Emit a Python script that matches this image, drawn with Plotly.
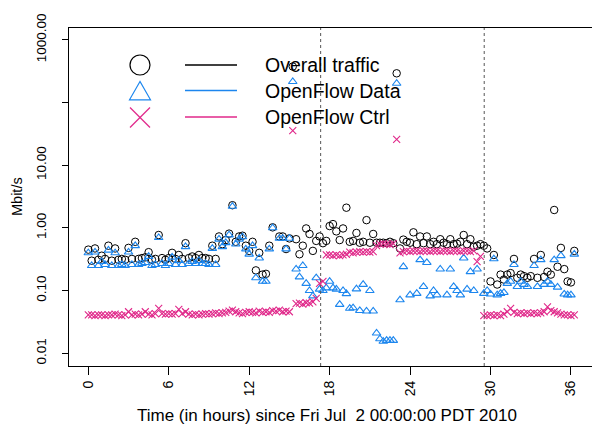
import plotly.graph_objects as go

# ---------------- data ----------------
START_HOUR = 0.0      # first sample, hours since Fri Jul 2 00:00 PDT 2010
STEP_HOURS = 0.25     # sampling interval

overall = [
    0.45, 0.30, 0.47, 0.31, 0.36, 0.32, 0.52, 0.30, 0.47, 0.31,
    0.32, 0.31, 0.48, 0.32, 0.60, 0.32, 0.33, 0.34, 0.41, 0.31,
    0.32, 0.77, 0.33, 0.31, 0.33, 0.40, 0.32, 0.37, 0.32, 0.57,
    0.33, 0.35, 0.33, 0.37, 0.33, 0.33, 0.32, 0.52, 0.32, 0.73,
    0.55, 0.64, 0.81, 2.3, 0.60, 0.73, 0.75, 0.52, 0.43, 0.60,
    0.21, 0.40, 0.18, 0.185, 0.52, 1.02, None, 0.73, 0.73, 0.46,
    0.68, 375, 0.66, 0.38, 0.52, 0.98, 0.80, 0.43, 0.62, 0.73,
    0.57, 0.62, 1.07, 1.15, 0.88, 0.64, 0.98, 2.1, 0.60, 0.62,
    0.83, 0.58, 0.60, 1.33, 0.58, 0.80, 0.58, 0.58, 0.58, 0.57,
    0.60, 0.57, 292, 0.47, 0.65, 0.60, 0.58, 0.85, 0.55, 0.73,
    0.57, 0.73, 0.55, 0.60, 0.55, 0.66, 0.58, 0.55, 0.66, 0.55,
    0.56, 0.60, 0.77, 0.55, 0.66, 0.50, 0.52, 0.55, 0.52, 0.47,
    0.14, 0.37, 0.125, 0.18, 0.15, 0.18, 0.19, 0.32, 0.16, 0.18,
    0.17, 0.16, 0.17, 0.32, 0.16, 0.37, 0.165, 0.20, 0.18, 1.93,
    0.24, 0.48, 0.22, 0.14, 0.135, 0.43,
]

openflow_data = [
    0.40, 0.25, 0.41, 0.25, 0.29, 0.26, 0.44, 0.25, 0.40, 0.25,
    0.26, 0.25, 0.41, 0.26, 0.52, 0.26, 0.27, 0.28, 0.35, 0.25,
    0.26, 0.70, 0.27, 0.25, 0.27, 0.34, 0.26, 0.30, 0.26, 0.50,
    0.27, 0.29, 0.27, 0.30, 0.27, 0.27, 0.26, 0.47, 0.26, 0.66,
    0.50, 0.58, 0.77, 2.2, 0.55, 0.66, 0.72, 0.46, 0.38, 0.52,
    0.16, 0.33, 0.14, 0.14, 0.46, 1.0, None, 0.68, 0.68, 0.46,
    0.68, 215, 0.22, 0.165, 0.25, 0.13, 0.10, 0.082, 0.16, 0.105,
    0.10, 0.11, 0.14, 0.11, 0.105, 0.06, 0.10, 0.089, 0.052, 0.053,
    0.106, 0.048, 0.125, 0.047, 0.10, 0.047, 0.021, 0.017, 0.0155, 0.016,
    0.016, 0.016, 202, 0.071, 0.24, None, 0.085, None, 0.09, 0.31,
    0.116, 0.28, 0.082, 0.10, 0.085, 0.22, None, 0.085, 0.22, 0.116,
    0.10, 0.085, 0.33, 0.105, 0.20, 0.10, 0.22, None, 0.09, 0.10,
    0.088, 0.32, 0.085, 0.09, 0.093, 0.13, 0.14, 0.26, 0.116, 0.14,
    0.125, 0.116, None, 0.25, 0.116, 0.31, 0.125, 0.14, 0.125, 0.31,
    0.113, 0.36, 0.088, 0.085, 0.085, 0.38,
]

openflow_ctrl = [
    0.041, 0.041, 0.040, 0.041, 0.041, 0.040, 0.041, 0.041, 0.042, 0.041,
    0.040, 0.041, 0.046, 0.041, 0.042, 0.041, 0.042, 0.046, 0.042, 0.041,
    0.043, 0.052, 0.043, 0.042, 0.043, 0.042, 0.043, 0.050, 0.043, 0.046,
    0.042, 0.041, 0.042, 0.041, 0.042, 0.043, 0.042, 0.043, 0.044, 0.043,
    0.044, 0.045, 0.047, 0.049, 0.046, 0.044, 0.043, 0.045, 0.046, 0.045,
    0.044, 0.047, 0.045, 0.046, 0.045, 0.048, 0.047, 0.049, 0.046, 0.047,
    0.046, 35.5, 0.062, 0.063, 0.061, 0.064, 0.063, 0.066, 0.075, 0.13,
    0.14, 0.37, 0.37, 0.36, 0.37, 0.36, 0.37, 0.38, 0.41, 0.40,
    0.41, 0.42, 0.41, 0.42, 0.41, 0.42, 0.52, 0.55, 0.56, 0.55,
    0.54, 0.56, 25.9, 0.40, 0.42, 0.43, 0.42, 0.43, 0.43, 0.42,
    0.43, 0.43, 0.42, 0.43, 0.43, 0.42, 0.43, 0.43, 0.42, 0.43,
    0.43, 0.42, 0.43, 0.43, 0.42, 0.43, 0.29, 0.35, 0.040, 0.040,
    0.041, 0.040, 0.041, 0.040, 0.042, 0.046, 0.052, 0.045, 0.043, 0.044,
    0.043, 0.044, 0.043, 0.044, 0.043, 0.044, 0.046, 0.055, 0.048, 0.046,
    0.044, 0.042, 0.041, 0.041, 0.040, 0.041,
]

hours = [START_HOUR + STEP_HOURS * i for i in range(len(overall))]

event_hours = [17.33, 29.53]          # dotted vertical markers

x_ticks = [0, 6, 12, 18, 24, 30, 36]
y_ticks = [0.01, 0.1, 1, 10, 100, 1000]
y_tick_text = ["0.01", "0.10", "1.00", "10.00", "", "1000.00"]

series_names = ["Overall traffic", "OpenFlow Data", "OpenFlow Ctrl"]
series_colors = ["#000000", "#1C86EE", "#E0288A"]

x_title = "Time (in hours) since Fri Jul  2 00:00:00 PDT 2010"
y_title = "Mbit/s"

# ---------------- layout geometry ----------------
W, H = 592, 428
ML, MR, MT, MB = 69, 0, 28, 62
PW, PH = W - ML - MR, H - MT - MB
FONT = "Liberation Sans, Arial, Helvetica, sans-serif"


def px(xp):
    return (xp - ML) / PW


def py(yp):
    return (H - MB - yp) / PH


fig = go.Figure()

fig.add_trace(go.Scatter(
    x=hours, y=overall, mode="markers", name=series_names[0],
    marker=dict(symbol="circle-open", size=7.5, color=series_colors[0],
                line=dict(width=1, color=series_colors[0])),
))
fig.add_trace(go.Scatter(
    x=hours, y=openflow_data, mode="markers", name=series_names[1],
    marker=dict(symbol="triangle-up-open", size=7.5, color=series_colors[1],
                line=dict(width=1.1, color=series_colors[1])),
))
fig.add_trace(go.Scatter(
    x=hours, y=openflow_ctrl, mode="markers", name=series_names[2],
    marker=dict(symbol="x-thin-open", size=7, color=series_colors[2],
                line=dict(width=1.1, color=series_colors[2])),
))

shapes = []
for h in event_hours:
    shapes.append(dict(type="line", xref="x", yref="paper", x0=h, x1=h, y0=0, y1=1,
                       line=dict(color="#555555", width=1, dash="dot")))

# ---- legend (symbol column, line column, label column) ----
row_y = [65, 90.5, 117]
sym_x, sym_r = 140, 10
line_x0, line_x1 = 185, 237
text_x = 263

# circle
shapes.append(dict(type="circle", xref="paper", yref="paper",
                   x0=px(sym_x - sym_r), x1=px(sym_x + sym_r),
                   y0=py(row_y[0] + sym_r), y1=py(row_y[0] - sym_r),
                   line=dict(color=series_colors[0], width=1.2)))
# triangle
ty = row_y[1] + 3
tri = "M {} {} L {} {} L {} {} Z".format(
    px(sym_x), py(ty - 12), px(sym_x - 10.5), py(ty + 6.3), px(sym_x + 10.5), py(ty + 6.3))
shapes.append(dict(type="path", xref="paper", yref="paper", path=tri,
                   line=dict(color=series_colors[1], width=1.2)))
# cross
cy = row_y[2] + 0.5
for sx in (-1, 1):
    shapes.append(dict(type="line", xref="paper", yref="paper",
                       x0=px(sym_x - sym_r), x1=px(sym_x + sym_r),
                       y0=py(cy - sx * sym_r), y1=py(cy + sx * sym_r),
                       line=dict(color=series_colors[2], width=1.2)))

annotations = []
for name, col, yy in zip(series_names, series_colors, row_y):
    shapes.append(dict(type="line", xref="paper", yref="paper",
                       x0=px(line_x0), x1=px(line_x1), y0=py(yy), y1=py(yy),
                       line=dict(color=col, width=1.4)))
    annotations.append(dict(text=name, xref="paper", yref="paper",
                            x=px(text_x), y=py(yy), xanchor="left", yanchor="middle",
                            showarrow=False, font=dict(family=FONT, size=19.5, color="black")))

# axis titles
annotations.append(dict(text=x_title, xref="paper", yref="paper", x=0.494, y=py(415),
                        xanchor="center", yanchor="middle", showarrow=False,
                        font=dict(family=FONT, size=17, color="black")))
annotations.append(dict(text=y_title, xref="paper", yref="paper", x=px(17), y=0.5,
                        xanchor="center", yanchor="middle", textangle=-90, showarrow=False,
                        font=dict(family=FONT, size=14.5, color="black")))

fig.update_layout(
    width=W, height=H,
    margin=dict(l=ML, r=MR, t=MT, b=MB, pad=0),
    paper_bgcolor="white", plot_bgcolor="white",
    showlegend=False,
    font=dict(family=FONT, size=14, color="black"),
    shapes=shapes, annotations=annotations,
    xaxis=dict(range=[-1.44, 37.57], tickmode="array", tickvals=x_ticks,
               ticks="outside", ticklen=8, tickwidth=1, tickcolor="black",
               tickangle=-90, showgrid=False, zeroline=False,
               showline=True, mirror=True, linecolor="black", linewidth=1,
               tickfont=dict(family=FONT, size=14)),
    yaxis=dict(type="log", range=[-2.2026, 3.188], tickmode="array",
               tickvals=y_ticks, ticktext=y_tick_text,
               ticks="outside", ticklen=6, tickwidth=1, tickcolor="black",
               tickangle=-90, showgrid=False, zeroline=False,
               showline=True, mirror=False, linecolor="black", linewidth=1,
               ticklabelstandoff=11, tickfont=dict(family=FONT, size=13.5)),
)

fig.write_html(
    "out.html",
    config={"displayModeBar": False},
    post_script="document.body.style.margin='0';document.body.style.padding='0';",
)
